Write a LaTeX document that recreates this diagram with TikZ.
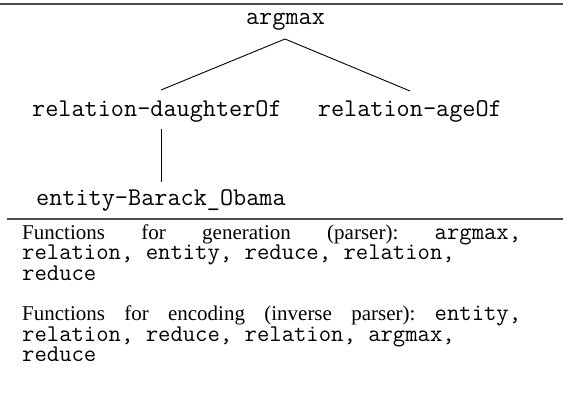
\documentclass[tikz,border=0pt]{standalone}
\usepackage{fontspec}
\setmainfont{Liberation Serif}
\newcommand{\treefont}{\fontsize{25.5}{28}\ttfamily}
\newcommand{\codefont}{\fontsize{24}{26}\ttfamily}
\begin{document}
\begin{tikzpicture}[x=1pt,y=-1pt,
  tree/.style={anchor=base west, inner sep=0pt, font=\treefont},
  code/.style={anchor=base west, inner sep=0pt, font=\codefont},
  para/.style={anchor=base west, inner sep=0pt, font=\fontsize{21}{23}\rmfamily},
  edge/.style={line width=0.9pt, black},
  rule/.style={line width=1.4pt, black!70}]
\useasboundingbox (0,0) rectangle (563,398);
\draw[rule] (0,4) -- (563,4);
\node[tree, anchor=base] (root) at (285.5,25) {argmax};
\node[tree] (rd) at (32,117) {relation-daughterOf};
\node[tree, anchor=base east] (ra) at (502,117) {relation-ageOf};
\node[tree] (ent) at (36,206) {entity-Barack\_Obama};
\coordinate (apex) at (285,39);
\coordinate (lend) at (161,90);
\coordinate (rend) at (410,91);
\coordinate (vtop) at (161,129);
\coordinate (vbot) at (161,182);
\draw[edge] (lend) -- (apex) -- (rend);
\draw[edge] (vtop) -- (vbot);
\draw[rule] (7,219) -- (563,219);
\node[para] (p1a) at (22,239.5) {\hbox to 499pt{Functions\hfill for\hfill generation\hfill (parser):\hfill{\codefont argmax,}}};
\node[code] (p1b) at (22,260) {relation, entity, reduce, relation,};
\node[code] (p1c) at (22,280.5) {reduce};
\node[para] (p2a) at (22,321) {\hbox to 499pt{Functions\hfill for\hfill encoding\hfill (inverse\hfill parser):\hfill{\codefont entity,}}};
\node[code] (p2b) at (22,341.5) {relation, reduce, relation, argmax,};
\node[code] (p2c) at (22,362) {reduce};
\end{tikzpicture}
\end{document}
